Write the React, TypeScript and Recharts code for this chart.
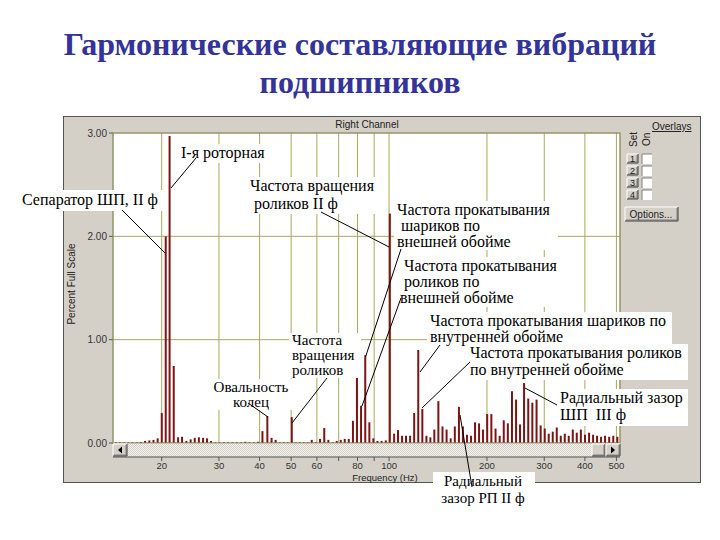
import React from "react";
import { ComposedChart, Bar, XAxis, YAxis, CartesianGrid } from "recharts";

// spectrum bins (Hz) and amplitudes (% full scale)
const freqs = [
  14.47, 14.89, 15.33, 15.78, 16.25, 16.74, 17.25, 17.77, 18.32, 18.86, 19.43,
  20.0, 20.57, 21.14, 21.77, 22.45, 23.09, 23.8, 24.54, 25.26, 26.01, 26.79, 27.56, 28.35,
  29.23, 30.13, 31.04, 32.0, 32.99, 34.01, 35.06, 36.12, 37.23, 38.38, 39.57,
  40.79, 42.23, 43.51, 44.79, 46.11, 47.43, 48.79, 50.2, 51.64, 53.12, 54.65, 56.22, 57.83, 59.53,
  61.33, 63.18, 65.04, 67.0, 69.02, 71.01, 73.05, 75.14, 77.41, 79.63, 81.98, 84.45, 86.94, 89.44,
  92.07, 94.85, 97.64, 100.5, 103.6, 106.5, 109.6, 112.7, 116.0, 119.4, 122.9, 126.5, 130.2, 133.9,
  137.7, 141.7, 145.9, 150.2, 154.6, 159.2, 163.9, 168.6, 173.5, 178.6, 183.7, 189.0, 194.4,
  200.2, 206.2, 212.4, 218.7, 225.1, 231.7, 238.6, 245.6, 252.6, 259.9, 267.7, 275.6, 283.9,
  292.3, 300.9, 309.5, 318.4, 327.6, 337.0, 346.7, 356.6, 366.9, 377.4, 388.5, 400.0, 411.7,
  423.6, 435.7, 448.2, 461.1, 474.7, 488.7, 503.0,
];

const amps = [
  0.006, 0.006, 0.006, 0.006, 0.006, 0.006, 0.01, 0.02, 0.025, 0.03, 0.045,
  0.29, 2.0, 2.97, 0.745, 0.055, 0.06, 0.02, 0.035, 0.05, 0.055, 0.05, 0.045, 0.02,
  0.006, 0.006, 0.006, 0.006, 0.006, 0.006, 0.006, 0.012, 0.006, 0.006, 0.012,
  0.115, 0.26, 0.05, 0.03, 0.006, 0.006, 0.006, 0.25, 0.006, 0.006, 0.006, 0.006, 0.03, 0.006,
  0.04, 0.145, 0.03, 0.006, 0.02, 0.03, 0.04, 0.04, 0.215, 0.64, 0.36, 0.85, 0.2, 0.045,
  0.02, 0.02, 0.025, 2.22, 0.09, 0.125, 0.07, 0.07, 0.07, 0.29, 0.9, 0.33, 0.07, 0.055,
  0.13, 0.405, 0.16, 0.13, 0.045, 0.16, 0.35, 0.16, 0.08, 0.07, 0.2, 0.19, 0.13,
  0.28, 0.28, 0.14, 0.07, 0.22, 0.19, 0.5, 0.42, 0.18, 0.58, 0.43, 0.39, 0.42,
  0.17, 0.14, 0.09, 0.11, 0.15, 0.07, 0.09, 0.07, 0.13, 0.1, 0.13, 0.08, 0.1,
  0.08, 0.07, 0.06, 0.07, 0.06, 0.07, 0.06,
];

const gridFreqs = [20, 30, 40, 50, 60, 70, 80, 90, 100, 200, 300, 400, 500];
const labeledFreqs = [20, 30, 40, 50, 60, 80, 100, 200, 300, 400, 500];
const yTicks = [0, 1, 2, 3];

const data = freqs.map((f, i) => ({ freq: f, amp: amps[i] }));

const SERIF = "'Liberation Serif', 'Times New Roman', serif";
const SANS = "'Liberation Sans', Arial, sans-serif";
const PANEL = "#d4d0c8";

// annotation text blocks
const notes = [
  { lines: ["I-я роторная"], x: 181, y: 158, lh: 16, size: 16, box: [178, 144, 93, 19] },
  { lines: ["Сепаратор ШП, II ф"], x: 22, y: 205, lh: 16, size: 16, box: [17, 190, 146, 21] },
  { lines: ["Частота вращения", " роликов II ф"], x: 250, y: 191, lh: 18, size: 16, box: [246, 177, 131, 37] },
  { lines: ["Частота прокатывания", " шариков по", "внешней обойме"], x: 397, y: 215, lh: 16, size: 16, box: [394, 201, 164, 49] },
  { lines: [" Частота прокатывания", " роликов по", "внешней обойме"], x: 400, y: 271, lh: 16, size: 16, box: [398, 257, 162, 50] },
  { lines: ["Частота прокатывания шариков по", "внутренней обойме"], x: 430, y: 326, lh: 16, size: 16, box: [427, 312, 245, 34] },
  { lines: ["Частота прокатывания роликов", "по внутренней обойме"], x: 470, y: 358, lh: 17, size: 16, box: [466, 344, 222, 36] },
  { lines: ["Радиальный зазор", "ШП  III ф"], x: 560, y: 403, lh: 17, size: 16, box: [556, 389, 132, 37] },
  { lines: ["Радиальный", "зазор РП II ф"], x: 483, y: 486, lh: 17, size: 15, box: [433, 472, 102, 36], mid: true },
  { lines: ["Овальность", "колец"], x: 251, y: 392, lh: 15, size: 15, box: [208, 379, 88, 31], mid: true },
  { lines: ["Частота", "вращения", "роликов"], x: 292, y: 345, lh: 15, size: 15, box: [289, 333, 72, 45] },
];

const leaders = [
  [196, 158, 171, 188],
  [122, 210, 165, 253],
  [321, 212, 389, 247],
  [401, 249, 365.5, 357],
  [401, 298, 362, 406],
  [440, 345, 420, 372],
  [470, 362, 422, 408],
  [557, 405, 525, 388],
  [472, 487, 460, 415],
  [248, 403, 268, 417],
  [327, 378, 292, 423],
];

function FreqTick(props: any) {
  const { x, y, payload } = props;
  const v = payload.value;
  return (
    <g>
      <line x1={x} x2={x} y1={y + 14} y2={y + 18} stroke="#555" />
      {labeledFreqs.includes(v) && (
        <text x={x} y={y + 25.5} textAnchor="middle" fontSize={9.5} fill="#333" fontFamily={SANS}>
          {v}
        </text>
      )}
    </g>
  );
}

function Btn({ x, y, w, h }: { x: number; y: number; w: number; h: number }) {
  return (
    <g>
      <rect x={x} y={y} width={w} height={h} fill={PANEL} />
      <polyline points={`${x},${y + h} ${x},${y} ${x + w},${y}`} fill="none" stroke="#fff" />
      <polyline points={`${x + 1},${y + h - 1} ${x + w - 1},${y + h - 1} ${x + w - 1},${y + 1}`} fill="none" stroke="#808080" />
      <polyline points={`${x},${y + h} ${x + w},${y + h} ${x + w},${y}`} fill="none" stroke="#404040" />
    </g>
  );
}

function Check({ x, y }: { x: number; y: number }) {
  return (
    <g>
      <rect x={x} y={y} width={10} height={10} fill="#fff" />
      <polyline points={`${x},${y + 10} ${x},${y} ${x + 10},${y}`} fill="none" stroke="#808080" />
    </g>
  );
}

function Decor() {
  return (
    <svg width={720} height={540} style={{ position: "absolute", left: 0, top: 0, pointerEvents: "none" }}>
      <defs>
        <pattern id="dots" width={2} height={2} patternUnits="userSpaceOnUse">
          <rect width={2} height={2} fill="#f4f3f0" />
          <rect width={1} height={1} fill={PANEL} />
          <rect x={1} y={1} width={1} height={1} fill={PANEL} />
        </pattern>
      </defs>
      {/* plot frame */}
      <rect x={113} y={133} width={507} height={310} fill="none" stroke="#8a8a70" />
      {/* scrollbar */}
      <rect x={113} y={443.5} width={507} height={13} fill="url(#dots)" />
      <Btn x={113} y={444} w={14} h={12} />
      <path d="M 118 450 L 122 446.5 L 122 453.5 Z" fill="#000" />
      <Btn x={592} y={444} w={13} h={12} />
      <Btn x={606} y={444} w={14} h={12} />
      <path d="M 615 450 L 611 446.5 L 611 453.5 Z" fill="#000" />
      <line x1={113} x2={620} y1={457} y2={457} stroke="#555" />
      {/* captions */}
      <text x={367} y={127.5} textAnchor="middle" fontSize={10} fontFamily={SANS} fill="#222">Right Channel</text>
      <text transform="translate(75,284) rotate(-90)" textAnchor="middle" fontSize={10} fontFamily={SANS} fill="#222">
        Percent Full Scale
      </text>
      <text x={385} y={480.5} textAnchor="middle" fontSize={9.5} fontFamily={SANS} fill="#222">Frequency (Hz)</text>
      {/* overlays box */}
      <text x={652} y={130} fontSize={10} fontFamily={SANS} fill="#222" textDecoration="underline">Overlays</text>
      <text transform="translate(637,147) rotate(-90)" fontSize={10} fontFamily={SANS} fill="#222">Set</text>
      <text transform="translate(650,146) rotate(-90)" fontSize={10} fontFamily={SANS} fill="#222">On</text>
      {["1", "2", "3", "4"].map((s, i) => (
        <g key={s}>
          <Btn x={627} y={154 + i * 12} w={11} h={9} />
          <text x={632.5} y={162 + i * 12} textAnchor="middle" fontSize={9} fontFamily={SANS} fill="#222">{s}</text>
          <Check x={642} y={154 + i * 12} />
        </g>
      ))}
      <Btn x={625} y={207} w={53} h={14} />
      <text x={651} y={218} textAnchor="middle" fontSize={10} fontFamily={SANS} fill="#222">Options...</text>
    </svg>
  );
}

function Notes() {
  return (
    <svg width={720} height={540} style={{ position: "absolute", left: 0, top: 0, pointerEvents: "none" }}>
      {notes.map((n, i) => (
        <rect key={"b" + i} x={n.box[0]} y={n.box[1]} width={n.box[2]} height={n.box[3]} fill="#fff" />
      ))}
      {leaders.map((l, i) => (
        <line key={"l" + i} x1={l[0]} y1={l[1]} x2={l[2]} y2={l[3]} stroke="#000" strokeWidth={1} />
      ))}
      {notes.map((n, i) => (
        <text
          key={"t" + i}
          fontFamily={SERIF}
          fontSize={n.size}
          fill="#000"
          textAnchor={n.mid ? "middle" : "start"}
          style={{ whiteSpace: "pre" }}
        >
          {n.lines.map((s, j) => (
            <tspan key={j} x={n.x} y={n.y + j * n.lh}>{s}</tspan>
          ))}
        </text>
      ))}
    </svg>
  );
}

export default function App() {
  return (
    <div style={{ position: "fixed", left: 0, top: 0, width: 720, height: 540, background: "#fff", overflow: "hidden" }}>
      <div
        style={{
          position: "absolute",
          top: 25,
          left: 0,
          width: 720,
          textAlign: "center",
          fontFamily: SERIF,
          fontWeight: "bold",
          fontSize: 32,
          lineHeight: "38px",
          color: "#333399",
        }}
      >
        Гармонические составляющие вибраций
        <br />
        подшипников
      </div>
      <div
        style={{
          position: "absolute",
          left: 63,
          top: 116,
          width: 636,
          height: 365,
          background: PANEL,
          border: "1px solid #555",
        }}
      />
      <div style={{ position: "absolute", left: 0, top: 0 }}>
        <ComposedChart width={720} height={540} data={data} margin={{ top: 133, right: 100, bottom: 67, left: 68 }}>
          <CartesianGrid stroke="#aaa85a" fill="#ffffff" fillOpacity={1} />
          <XAxis
            dataKey="freq"
            type="number"
            scale="log"
            domain={[14.17, 512.8]}
            allowDataOverflow
            ticks={gridFreqs}
            interval={0}
            tickSize={0}
            tickMargin={0}
            axisLine={false}
            tickLine={false}
            tick={<FreqTick />}
            height={30}
          />
          <YAxis
            type="number"
            domain={[0, 3]}
            ticks={yTicks}
            interval={0}
            width={45}
            axisLine={false}
            tickSize={4}
            tickLine={{ stroke: "#555" }}
            tick={{ fontSize: 10, fill: "#333", fontFamily: SANS }}
            tickFormatter={(v: number) => v.toFixed(2)}
          />
          <Bar dataKey="amp" fill="#7d1414" barSize={2} isAnimationActive={false} />
        </ComposedChart>
      </div>
      <Decor />
      <Notes />
    </div>
  );
}
